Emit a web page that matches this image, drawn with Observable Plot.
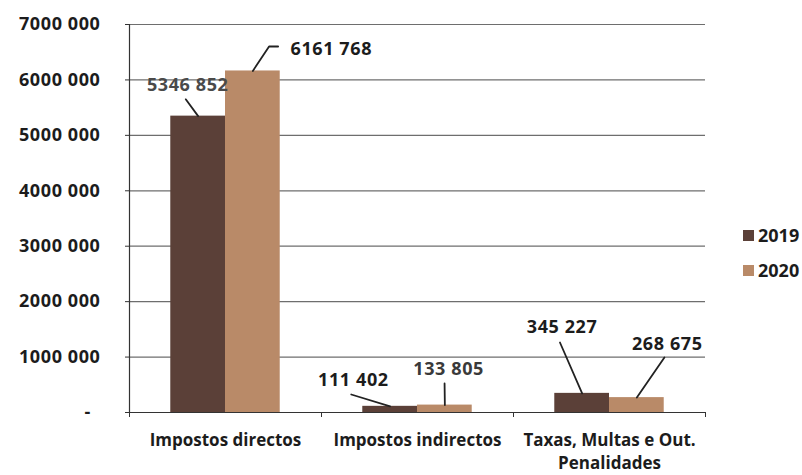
<!DOCTYPE html>
<html>
<head>
<meta charset="utf-8">
<script src="https://cdn.jsdelivr.net/npm/d3@7"></script>
<script src="https://cdn.jsdelivr.net/npm/@observablehq/plot@0.6"></script>
<style>
  html, body { margin: 0; padding: 0; background: #fff; }
  #wrap { position: relative; width: 802px; height: 475px; font-family: "Open Sans", sans-serif; }
  #wrap svg text { letter-spacing: 0.6px; }
  #wrap svg g[aria-label="x-axis tick label"] text { letter-spacing: 0px; }
  .legend { position: absolute; left: 743px; font-weight: 700; font-size: 18px; color: #1c1c1c; line-height: 20px; display: flex; align-items: center; }
  .legend span.sw { display: inline-block; width: 11px; height: 11px; margin-right: 4px; }
</style>
</head>
<body>
<div id="wrap"></div>
<script>
// ---- data ----
const categories = ["Impostos directos", "Impostos indirectos", "Taxas, Multas e Out.\nPenalidades"];
const years = ["2019", "2020"];
const values2019 = [5346852, 111402, 345227];
const values2020 = [6161768, 133805, 268675];
const yTicks = [0, 1000000, 2000000, 3000000, 4000000, 5000000, 6000000, 7000000];

// ---- layout / style (not data) ----
const colors = ["#5b4038", "#b98a68"];
const bw = 0.285; // bar width in category units
// label centre and leader-line end (category units / value units)
const labelLayout = [
  { cat: 0, year: "2019", tx: -0.197, ty: 5900000, path: [[-0.207, 5650000]], color: "#4a4a4a" },
  { cat: 0, year: "2020", tx: 0.551, ty: 6549000, path: [[0.227, 6603000], [0.274, 6603000]], color: "#1c1c1c" },
  { cat: 1, year: "2019", tx: 0.666, ty: 577000, path: [[0.655, 324700]], color: "#1c1c1c" },
  { cat: 1, year: "2020", tx: 1.162, ty: 776000, path: [[1.141, 523200]], color: "#3a3a3a" },
  { cat: 2, year: "2019", tx: 1.753, ty: 1533000, path: [[1.742, 1263000]], color: "#1c1c1c" },
  { cat: 2, year: "2020", tx: 2.301, ty: 1227000, path: [[2.286, 992300]], color: "#1c1c1c" }
];

const fmt = v => v === 0 ? "-\u2002" :
  (v >= 1000 ? Math.floor(v / 1000) + " " + String(v % 1000).padStart(3, "0") : String(v));

const rows = categories.flatMap((c, i) => [
  { i, cat: c, year: years[0], value: values2019[i] },
  { i, cat: c, year: years[1], value: values2020[i] }
]);
const barX1 = d => d.i + (d.year === years[0] ? -bw : 0);
const barX2 = d => d.i + (d.year === years[0] ? 0 : bw);
const barMid = d => (barX1(d) + barX2(d)) / 2;

const labels = labelLayout.map(l => {
  const r = rows.find(d => d.i === l.cat && d.year === l.year);
  return { ...l, value: r.value, text: fmt(r.value), start: [barMid(r), r.value] };
});
const leaderPts = labels.flatMap((l, k) =>
  [l.start, ...l.path].map(p => ({ id: k, x: p[0], y: p[1] })));

const chart = Plot.plot({
  width: 802,
  height: 475,
  marginLeft: 129,
  marginRight: 97,
  marginTop: 24,
  marginBottom: 63,
  style: { fontFamily: "Open Sans, sans-serif", background: "#fff" },
  x: { domain: [-0.5, 2.5], axis: null },
  y: { domain: [0, 7000000], axis: null },
  color: { domain: years, range: colors },
  marks: [
    Plot.ruleY(yTicks.filter(v => v > 0), { stroke: "#6e6e6e", strokeWidth: 1.2 }),
    Plot.rect(rows, { x1: barX1, x2: barX2, y1: 0, y2: "value", fill: "year" }),
    Plot.ruleY([0], { stroke: "#333", strokeWidth: 1.2 }),
    Plot.ruleX([-0.5], { y1: 0, y2: 7000000, stroke: "#333", strokeWidth: 1.2 }),
    Plot.axisY({
      ticks: yTicks, tickFormat: fmt, tickSize: 4, tickPadding: 25, label: null,
      fontSize: 18, fontWeight: 700, fill: "#1c1c1c", stroke: "#333"
    }),
    Plot.axisX({ ticks: [-0.5, 0.5, 1.5, 2.5], tickFormat: () => "", tickSize: 5, label: null, stroke: "#333" }),
    Plot.axisX({
      ticks: [0, 1, 2], tickFormat: i => categories[i], tickSize: 0, tickPadding: 17, label: null,
      fontSize: 17, fontWeight: 700, fill: "#1c1c1c", lineHeight: 1.36
    }),
    Plot.line(leaderPts, { x: "x", y: "y", z: "id", stroke: "#222", strokeWidth: 1.8 }),
    Plot.text(labels, {
      x: "tx", y: "ty", text: "text", fill: "color", fontSize: 18, fontWeight: 700,
      textAnchor: "middle", lineAnchor: "middle"
    })
  ]
});

const wrap = document.getElementById("wrap");
wrap.appendChild(chart);
years.forEach((y, k) => {
  const d = document.createElement("div");
  d.className = "legend";
  d.style.top = (225 + k * 35) + "px";
  d.innerHTML = `<span class="sw" style="background:${colors[k]}"></span>${y}`;
  wrap.appendChild(d);
});
</script>
</body>
</html>
